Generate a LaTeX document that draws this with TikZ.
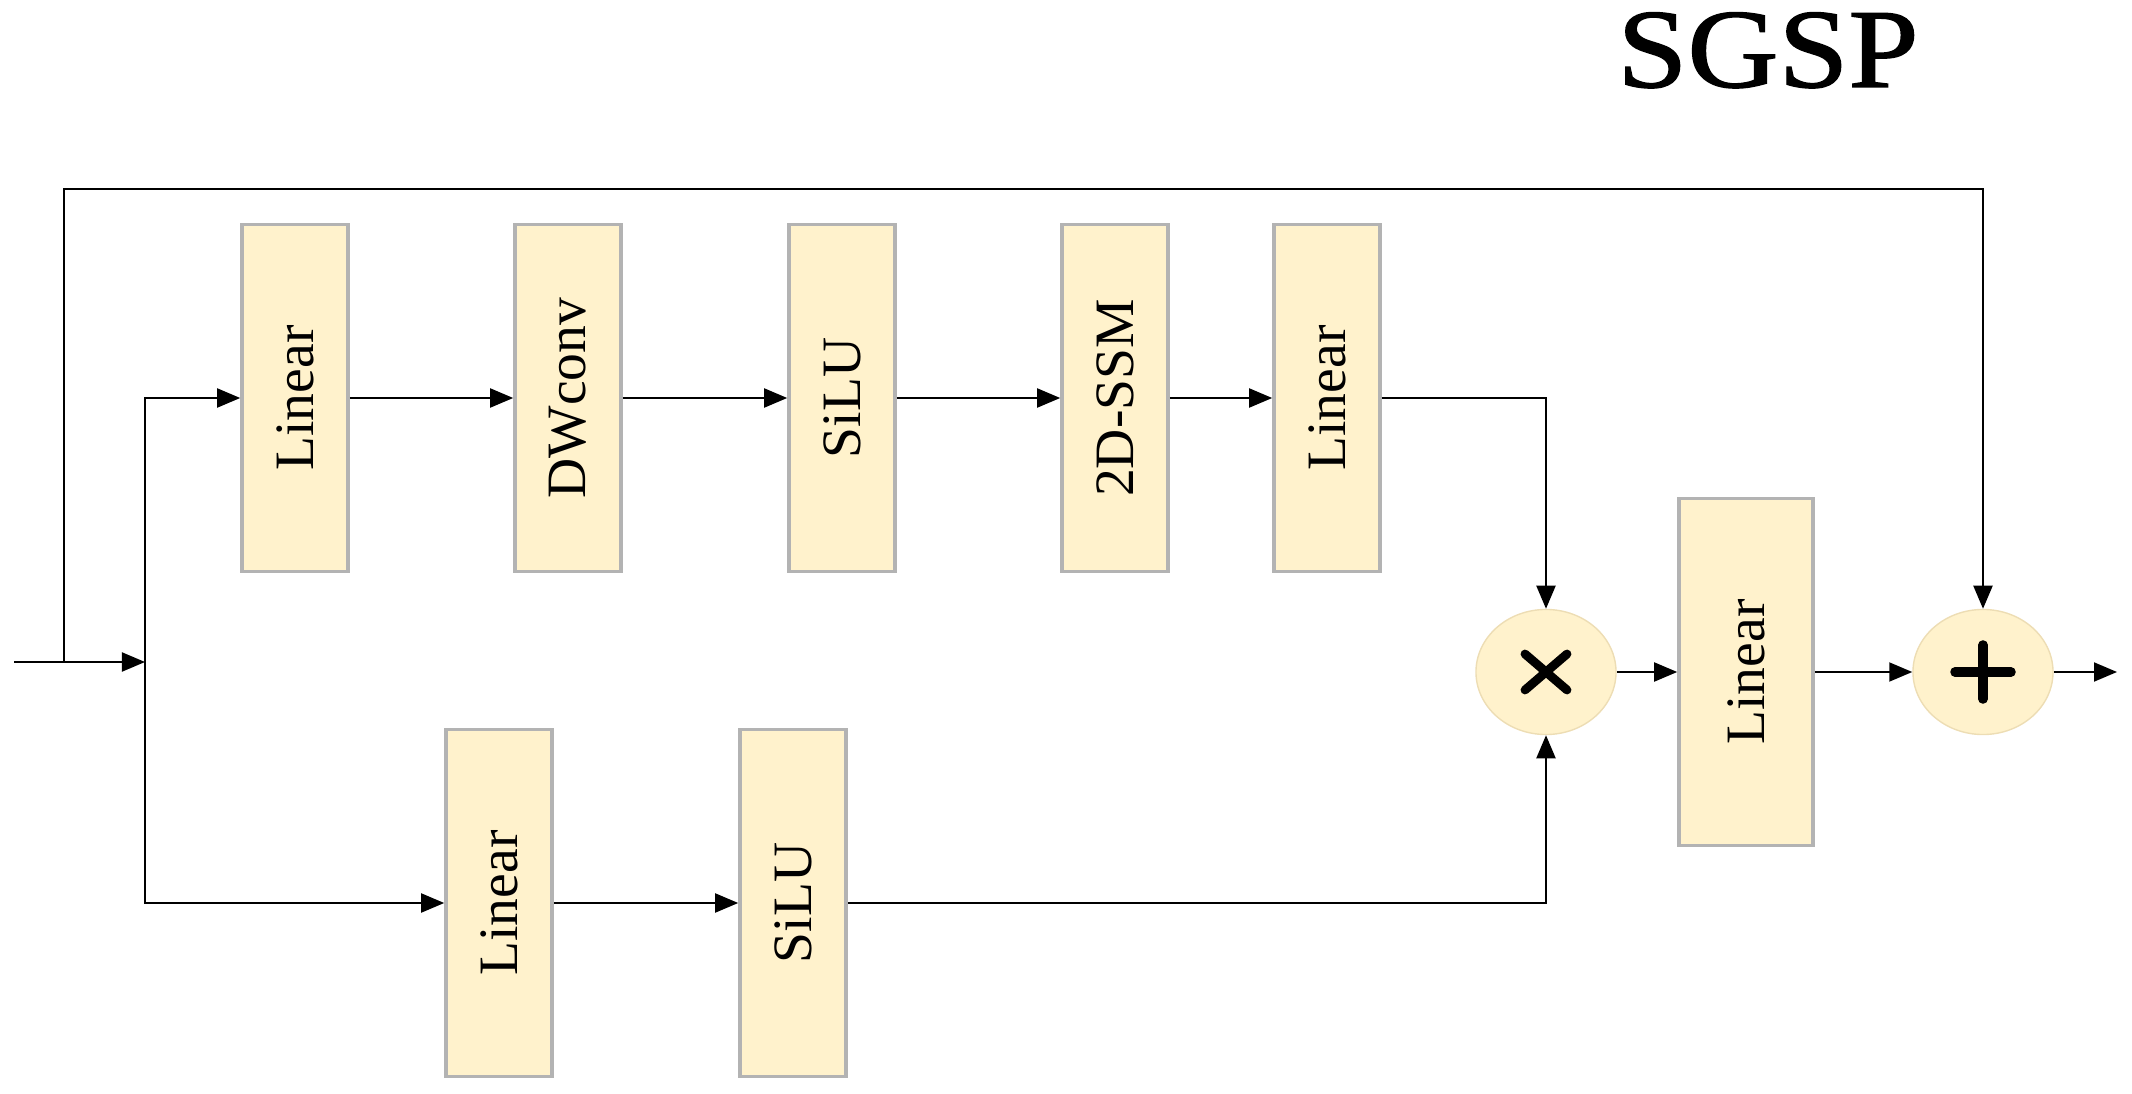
\documentclass[tikz,border=0pt]{standalone}
\usepackage{fontspec}
\setmainfont{Liberation Serif}
\newfontfamily\titlefont[FakeStretch=1.12, FakeBold=1.3]{Liberation Serif}
\usetikzlibrary{arrows.meta,shapes.geometric}
\definecolor{blockfill}{HTML}{FFF2CC}
\definecolor{blockedge}{HTML}{B3B3B3}
\definecolor{opedge}{HTML}{EDDDB4}

\begin{document}
\begin{tikzpicture}[
  x=0.01cm,
  y=-0.01cm,
  every node/.style={font=\fontsize{15.8}{19}\selectfont},
  block/.style={draw=blockedge, fill=blockfill, line width=1pt, rotate=90,
    minimum width=3.47cm, minimum height=1.06cm, inner sep=0pt},
  wideblock/.style={block, minimum height=1.34cm},
  op/.style={ellipse, draw=opedge, fill=blockfill, line width=0.4pt,
    minimum width=1.40cm, minimum height=1.25cm, inner sep=0pt},
  conn/.style={black, line width=0.55pt, -{Triangle[length=2.3mm, width=1.9mm]}},
  sign/.style={black, line width=2.5pt, line cap=round}
]
  % ---- page size of the reference ---------------------------------------
  \useasboundingbox (0,0) rectangle (2132,1094);

  % ---- title -------------------------------------------------------------
  \node[font=\titlefont\fontsize{32}{38}\selectfont, anchor=base,
    inner sep=0pt] (title) at (1768,87) {SGSP};

  % ---- upper branch ------------------------------------------------------
  \node[block] (lin1)  at (295,398)  {Linear};
  \node[block] (dwc)   at (568,398)  {DWconv};
  \node[block] (silu1) at (842,398)  {SiLU};
  \node[block] (ssm)   at (1115,398) {2D-SSM};
  \node[block] (lin2)  at (1327,398) {Linear};

  % ---- lower branch ------------------------------------------------------
  \node[block] (lin3)  at (499,903) {Linear};
  \node[block] (silu2) at (793,903) {SiLU};

  % ---- merge, projection and residual sum --------------------------------
  \node[op] (mul) at (1546,672) {};
  \node[wideblock] (lin4) at (1746,672) {Linear};
  \node[op] (add) at (1983,672) {};

  \draw[sign] ([shift={(-21,-18)}]mul.center) -- ([shift={(21,18)}]mul.center);
  \draw[sign] ([shift={(-21,18)}]mul.center) -- ([shift={(21,-18)}]mul.center);
  \draw[sign, line width=2.7pt] ([xshift=-0.28cm]add.center) -- ([xshift=0.28cm]add.center);
  \draw[sign, line width=2.7pt] ([yshift=-0.27cm]add.center) -- ([yshift=0.27cm]add.center);

  % ---- input, split and skip path ---------------------------------------
  \coordinate (in)    at (14,662);
  \coordinate (tap)   at (64,662);
  \coordinate (split) at (145,662);
  \coordinate (top)   at (64,189);
  \coordinate (out)   at (2117,672);

  \draw[conn] (in) -- (split);
  \draw[conn] (tap) -- (top) -| (add);
  \draw[conn] (split) |- (lin1);
  \draw[conn] (split) |- (lin3);

  % ---- chains ------------------------------------------------------------
  \foreach \a/\b in {lin1/dwc, dwc/silu1, silu1/ssm, ssm/lin2,
                     lin3/silu2, mul/lin4, lin4/add}
    \draw[conn] (\a) -- (\b);

  \draw[conn] (lin2) -| (mul);
  \draw[conn] (silu2) -| (mul);
  \draw[conn] (add) -- (out);

\end{tikzpicture}
\end{document}
